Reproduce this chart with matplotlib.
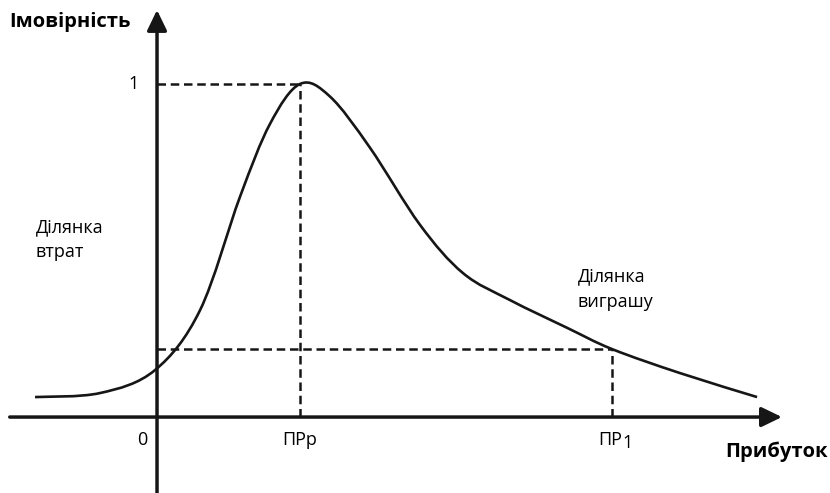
import numpy as np
import matplotlib.pyplot as plt
from matplotlib.path import Path
from matplotlib.patches import PathPatch

# Крива ймовірності (x - прибуток в умовних одиницях, ПРр = 1)
profit = [-0.853, -0.399, -0.014, 0.301, 0.580, 0.790, 1.0,
          1.210, 1.490, 1.839, 2.140, 2.469, 2.867, 3.182, 3.657, 4.196]
prob = [0.060, 0.072, 0.141, 0.321, 0.661, 0.880, 1.0,
        0.962, 0.808, 0.577, 0.432, 0.351, 0.268, 0.204, 0.132, 0.060]

x_pr_p = 1.0      # ПРр
x_pr_1 = 3.182    # ПР1
y_pr_1 = 0.204    # ймовірність при ПР1

fig = plt.figure(figsize=(8.3, 4.93), dpi=100)
ax = fig.add_axes([0, 0, 1, 1])
ax.set_xlim(-1.098, 4.706)
ax.set_ylim(-0.228, 1.252)
ax.axis('off')

font = 'Open Sans'
ink = '#161616'

# Осі зі стрілками
arrow = dict(arrowstyle='-|>,head_length=0.62,head_width=0.3', lw=2.5,
             color=ink, mutation_scale=20, shrinkA=0, shrinkB=0)
ax.annotate('', xy=(4.37, 0), xytext=(-1.03, 0), arrowprops=arrow)
ax.annotate('', xy=(0, 1.222), xytext=(0, -0.228), arrowprops=arrow)

# Пунктирні лінії
dash = dict(color=ink, lw=1.8, ls=(0, (3.4, 1.9)))
ax.plot([0, x_pr_p], [1, 1], **dash)
ax.plot([x_pr_p, x_pr_p], [0, 1], **dash)
ax.plot([0, x_pr_1], [y_pr_1, y_pr_1], **dash)
ax.plot([x_pr_1, x_pr_1], [0, y_pr_1], **dash)

# Крива: гладкий шлях (Catmull-Rom -> кубічні Безьє) через точки
pts = np.column_stack([profit, prob])
verts = [pts[0]]
codes = [Path.MOVETO]
for i in range(len(pts) - 1):
    p0 = pts[max(i - 1, 0)]
    p1 = pts[i]
    p2 = pts[i + 1]
    p3 = pts[min(i + 2, len(pts) - 1)]
    verts += [p1 + (p2 - p0) / 6, p2 - (p3 - p1) / 6, p2]
    codes += [Path.CURVE4] * 3
ax.add_patch(PathPatch(Path(verts, codes), fill=False, lw=1.9, edgecolor=ink,
                       capstyle='butt', transform=ax.transData))

# Підписи
ax.text(-1.03, 1.186, 'Імовірність', fontsize=14.5, fontweight='bold',
        family=font, ha='left', va='center')
ax.text(4.69, -0.105, 'Прибуток', fontsize=14.5, fontweight='bold',
        family=font, ha='right', va='center')
ax.text(-0.13, 1.0, '1', fontsize=13, family=font, ha='right', va='center')
ax.text(-0.07, -0.07, '0', fontsize=13, family=font, ha='right', va='center')
ax.text(x_pr_p, -0.07, 'ПРр', fontsize=13, family=font, ha='center', va='center')
ax.text(x_pr_1 + 0.07, -0.07, 'ПР', fontsize=13, family=font, ha='right', va='center')
ax.annotate('1', xy=(x_pr_1 + 0.07, -0.07), xytext=(0.5, -2),
            textcoords='offset points', fontsize=13, family=font,
            ha='left', va='center')
ax.text(-0.85, 0.532, 'Ділянка\nвтрат', fontsize=13, family=font,
        ha='left', va='center', linespacing=1.5)
ax.text(2.94, 0.384, 'Ділянка\nвиграшу', fontsize=13, family=font,
        ha='left', va='center', linespacing=1.5)

fig.savefig('out.png', dpi=100)
